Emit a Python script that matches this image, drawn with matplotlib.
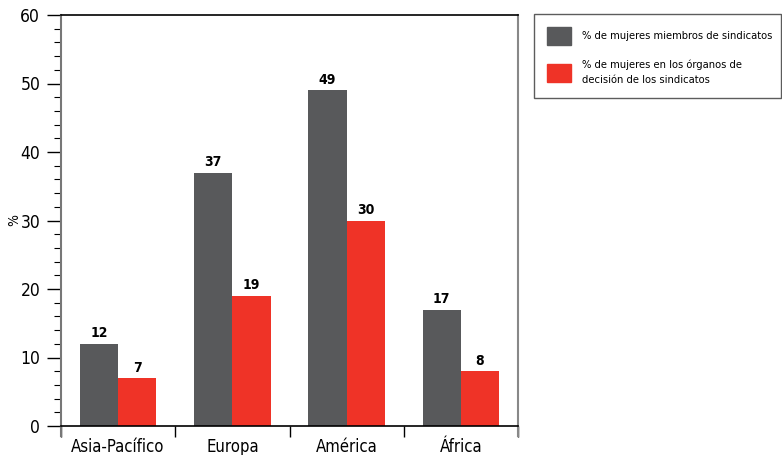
"""
Mujeres en sindicatos por región (barras agrupadas)
"""

import numpy as np
import matplotlib
matplotlib.use("Agg")
import matplotlib.pyplot as plt
from matplotlib import font_manager
from matplotlib.ticker import MultipleLocator
from matplotlib.patches import Patch

regions = ['Asia-Pacífico', 'Europa', 'América', 'África']
members = [12, 37, 49, 17]
decision = [7, 19, 30, 8]
series_names = ['% de mujeres miembros de sindicatos',
                '% de mujeres en los órganos de\ndecisión de los sindicatos']

gray = '#58595b'
red = '#ef3327'

# look for a narrow face, the original uses a condensed grotesque
narrow = None
for f in font_manager.fontManager.ttflist:
    if f.stretch in ('condensed', 'semi-condensed', 'extra-condensed') or \
            'Narrow' in f.name or 'Condensed' in f.name:
        narrow = f
        break
if narrow is not None:
    plt.rcParams['font.family'] = [narrow.name, 'DejaVu Sans']
    plt.rcParams['font.stretch'] = narrow.stretch
    scale = 1.0
else:
    plt.rcParams['font.family'] = ['Liberation Sans', 'DejaVu Sans']
    scale = 0.85

fig = plt.figure(figsize=(7.82, 4.55), dpi=100)
ax = fig.add_axes([61/782, 1-426/455, (518-61)/782, (426-15)/455])

x = np.arange(len(regions))
w = 0.335
b1 = ax.bar(x - w/2, members, w, color=gray)
b2 = ax.bar(x + w/2, decision, w, color=red)

for bars, vals in ((b1, members), (b2, decision)):
    for rect, v in zip(bars, vals):
        ax.text(rect.get_x() + rect.get_width()/2, v + 0.5, str(v),
                ha='center', va='bottom', fontsize=10*scale, fontweight='bold')

ax.set_xlim(-0.5, len(regions) - 0.5)
ax.set_ylim(0, 60)

# category separators as ticks, labels centered via minor ticks
ax.set_xticks(np.arange(-0.5, len(regions), 1.0))
ax.set_xticklabels([])
ax.set_xticks(x, minor=True)
ax.set_xticklabels(regions, minor=True, fontsize=12*scale)
ax.tick_params(axis='x', which='major', length=8, width=1, direction='out')
ax.tick_params(axis='x', which='minor', length=0, pad=9)

ax.yaxis.set_major_locator(MultipleLocator(10))
ax.yaxis.set_minor_locator(MultipleLocator(2))
ax.tick_params(axis='y', which='major', length=10, width=1, labelsize=12.5*scale, pad=5)
ax.tick_params(axis='y', which='minor', length=5, width=0.8)
ax.set_ylabel('%', fontsize=10*scale)
ax.yaxis.set_label_coords(-40/457, 0.5)

ax.spines['top'].set_linewidth(1.2)
ax.spines['bottom'].set_linewidth(1.2)
ax.spines['left'].set_color('#777777')
ax.spines['left'].set_linewidth(1.5)
ax.spines['right'].set_color('#888888')
ax.spines['right'].set_linewidth(1.5)
ax.spines['right'].set_bounds(-1.4, 60)
ax.spines['left'].set_bounds(-1.4, 60)

handles = [Patch(color=gray), Patch(color=red)]
leg = fig.legend(handles, series_names, loc='upper left', mode='expand',
                 bbox_to_anchor=(534/782, 1-14/455, 247/782, 0),
                 fontsize=8.0*scale,
                 frameon=True, fancybox=False, handlelength=2.15,
                 handleheight=2.15, handletextpad=1.0, borderpad=1.15,
                 labelspacing=1.3, borderaxespad=0)
for t in leg.get_texts():
    t.set_linespacing(1.6)
leg.get_frame().set_edgecolor('#333333')
leg.get_frame().set_linewidth(1)

fig.savefig('out.png', dpi=100)
